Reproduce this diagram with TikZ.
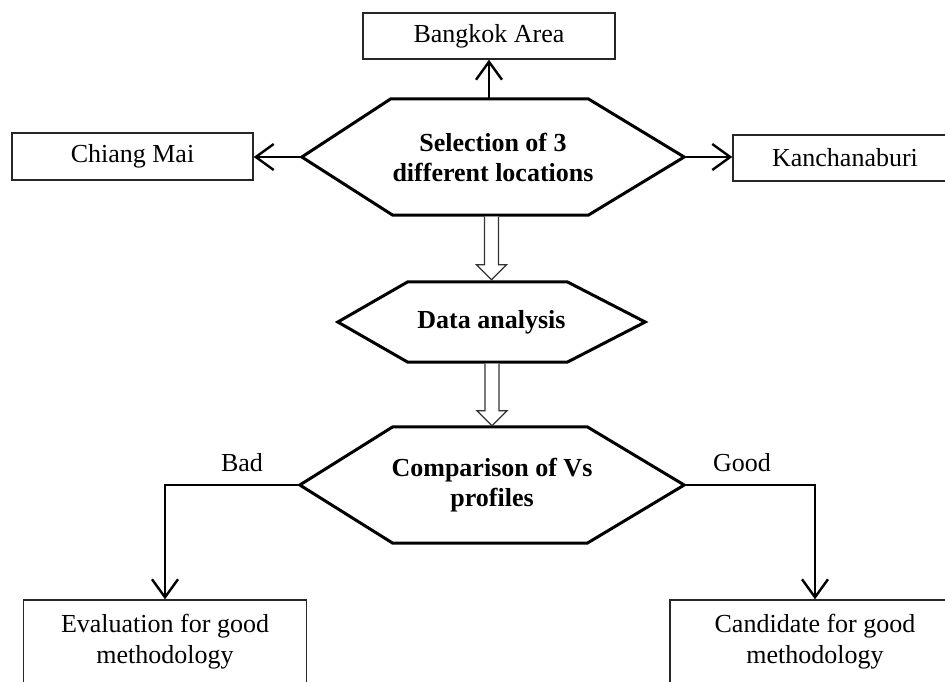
\documentclass[tikz,border=0pt]{standalone}
\usepackage{fontspec}
\setmainfont{Liberation Serif}
\usetikzlibrary{arrows.meta,calc}
\tikzset{
  box/.style={draw=black!85, line width=1.4pt, rectangle, inner sep=0pt, align=center,
    font=\fontsize{26}{31}\selectfont},
  hexnode/.style={draw=none, inner sep=0pt, align=center,
    font=\fontsize{26}{30}\selectfont\bfseries},
  hexline/.style={draw=black, line width=3pt, line join=miter},
  arr/.style={draw=black, line width=2.4pt, -{Straight Barb[length=18pt,width=26pt,line width=2.4pt]}},
  hollow/.style={draw=black!80, line width=1.3pt, fill=white, line join=miter},
  lbl/.style={inner sep=0pt, font=\fontsize{26}{30}\selectfont}
}
\begin{document}
\begin{tikzpicture}[x=1pt,y=-1pt]
\useasboundingbox (0,0) rectangle (945,681);
\clip (0,0) rectangle (945,681);
\fill[white] (0,0) rectangle (945,681);

% boxes
\node[box, minimum width=252, minimum height=46] (bkk) at (489,36) {Bangkok Area};
\node[box, minimum width=241, minimum height=47] (cm) at (132.5,156.5) {Chiang Mai};
\node[box, minimum width=224, minimum height=46] (kan) at (845,158) {Kanchanaburi};
\node[box, minimum width=283, minimum height=84] (eval) at (165,642) {Evaluation for good\\methodology};
\node[box, minimum width=290, minimum height=84] (cand) at (815,642) {Candidate for good\\methodology};

% hexagon nodes
\node[hexnode, minimum width=382, minimum height=116] (sel) at (493,157) {Selection of 3\\different locations};
\node[hexnode, minimum width=307, minimum height=80] (data) at (491.5,322) {Data analysis};
\node[hexnode, minimum width=384, minimum height=116] (comp) at (492,485) {Comparison of Vs\\profiles};

\draw[hexline] (sel.west) -- ([xshift=89pt]sel.north west) -- ([xshift=-96pt]sel.north east) -- (sel.east)
  -- ([xshift=-96pt]sel.south east) -- ([xshift=91pt]sel.south west) -- cycle;
\draw[hexline] (data.west) -- ([xshift=70pt]data.north west) -- ([xshift=-78pt]data.north east) -- (data.east)
  -- ([xshift=-78pt]data.south east) -- ([xshift=70pt]data.south west) -- cycle;
\draw[hexline] (comp.west) -- ([xshift=93pt]comp.north west) -- ([xshift=-97pt]comp.north east) -- (comp.east)
  -- ([xshift=-97pt]comp.south east) -- ([xshift=93pt]comp.south west) -- cycle;

% arrows from selection
\draw[arr] (sel.north -| bkk.south) -- (bkk.south);
\draw[arr] (sel.west) -- (sel.west -| cm.east);
\draw[arr] (sel.east) -- (sel.east -| kan.west);

% hollow arrows
\coordinate (t1) at ($(data.north)+(0,-2)$);
\coordinate (s1) at ($(sel.south -| t1)+(0,1.5)$);
\draw[hollow] ($(s1)+(-7,0)$) -- ($(t1)+(-7,-15)$) -- ($(t1)+(-15,-15)$) -- (t1)
  -- ($(t1)+(15,-15)$) -- ($(t1)+(7,-15)$) -- ($(s1)+(7,0)$);
\coordinate (t2) at ($(comp.north)+(0,-1)$);
\coordinate (s2) at ($(data.south -| t2)+(0,1.5)$);
\draw[hollow] ($(s2)+(-7,0)$) -- ($(t2)+(-7,-15)$) -- ($(t2)+(-15,-15)$) -- (t2)
  -- ($(t2)+(15,-15)$) -- ($(t2)+(7,-15)$) -- ($(s2)+(7,0)$);

% decision branches
\draw[arr] (comp.west) -| (eval.north);
\draw[arr] (comp.east) -| (cand.north);

\node[lbl] (bad) at (242,463) {Bad};
\node[lbl] (good) at (742,463) {Good};
\end{tikzpicture}
\end{document}
